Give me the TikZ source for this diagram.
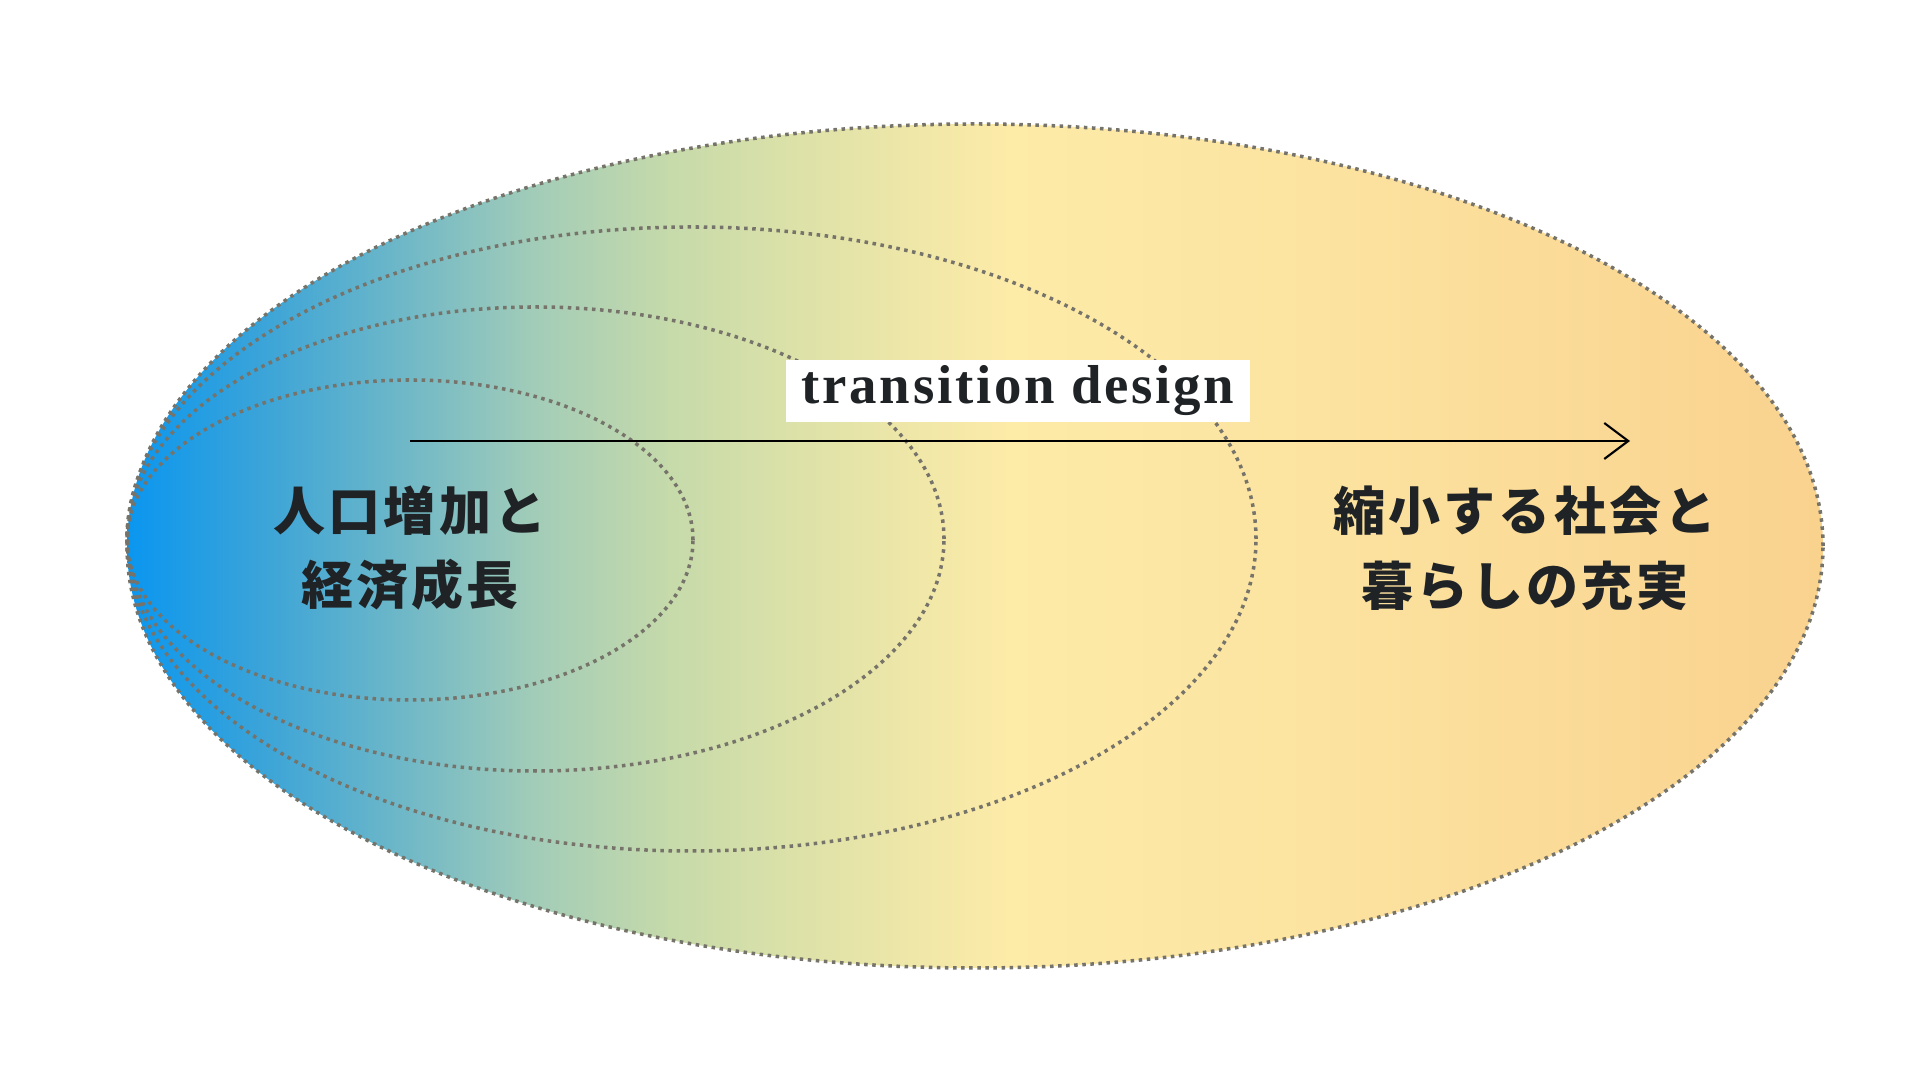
\documentclass[tikz,border=0pt]{standalone}
\usepackage{fontspec}
\usetikzlibrary{arrows.meta, positioning, calc}
\newfontfamily\jpfont[LetterSpace=6]{Noto Sans CJK JP}
\newfontfamily\tdfont[LetterSpace=5]{Liberation Serif}
\definecolor{skyblue}{HTML}{0A96F0}
\definecolor{cblue}{HTML}{3BA4D8}
\definecolor{teal}{HTML}{6DB7C8}
\definecolor{seafoam}{HTML}{A2CCB8}
\definecolor{sage}{HTML}{C6DAAA}
\definecolor{lime}{HTML}{DEE2A8}
\definecolor{straw}{HTML}{F3E8A8}
\definecolor{butter}{HTML}{FDEBA8}
\definecolor{wheat}{HTML}{FCE3A0}
\definecolor{apricot}{HTML}{F9D28E}
\definecolor{dotgray}{HTML}{76736A}
\definecolor{ink}{HTML}{1F2326}
\pgfdeclarehorizontalshading{transition}{100bp}{color(0bp)=(skyblue); color(25bp)=(skyblue);
  color(29bp)=(cblue); color(33bp)=(teal); color(37bp)=(seafoam); color(41bp)=(sage);
  color(45bp)=(lime); color(49bp)=(straw); color(51bp)=(butter); color(60bp)=(wheat);
  color(75bp)=(apricot); color(100bp)=(apricot)}

\begin{document}
\begin{tikzpicture}[>={Straight Barb[length=2.4mm, width=3.6mm]},
  ring/.style={dotgray, line width=1.0pt, dash pattern=on 1.0pt off 1.3pt},
  jptext/.style={text=ink, align=center, font=\jpfont\bfseries\fontsize{14.8pt}{21.3pt}\selectfont},
  labelbox/.style={fill=white, text=ink, minimum width=4.64cm, minimum height=0.62cm, inner sep=0pt,
    font=\tdfont\bfseries\fontsize{15.6pt}{18pt}\selectfont}]

% Background
\fill[white] (0,0) rectangle (19.2,10.8);
\useasboundingbox (0,0) rectangle (19.2,10.8);

% Outer field
\shade[shading=transition] (9.75,5.34) ellipse (8.48 and 4.22);
\draw[ring] (9.75,5.34) ellipse (8.48 and 4.22);

% Nested rings
\draw[ring] (6.915,5.41) ellipse (5.645 and 3.12);
\draw[ring] (5.355,5.41) ellipse (4.085 and 2.32);
\draw[ring] (4.10,5.40) ellipse (2.83 and 1.60);

% Arrow and label
\coordinate (arrowstart) at (4.10,6.39);
\coordinate (arrowend) at (16.30,6.39);
\draw[black, line width=0.6pt, ->] (arrowstart) -- (arrowend);
\node[labelbox] (design) at (10.18,6.89) {transition design};

% Texts
\node[jptext] (growth) at (4.10,5.32) {人口増加と\\経済成長};
\node[jptext] (shrink) at (15.25,5.32) {縮小する社会と\\暮らしの充実};

\end{tikzpicture}
\end{document}
